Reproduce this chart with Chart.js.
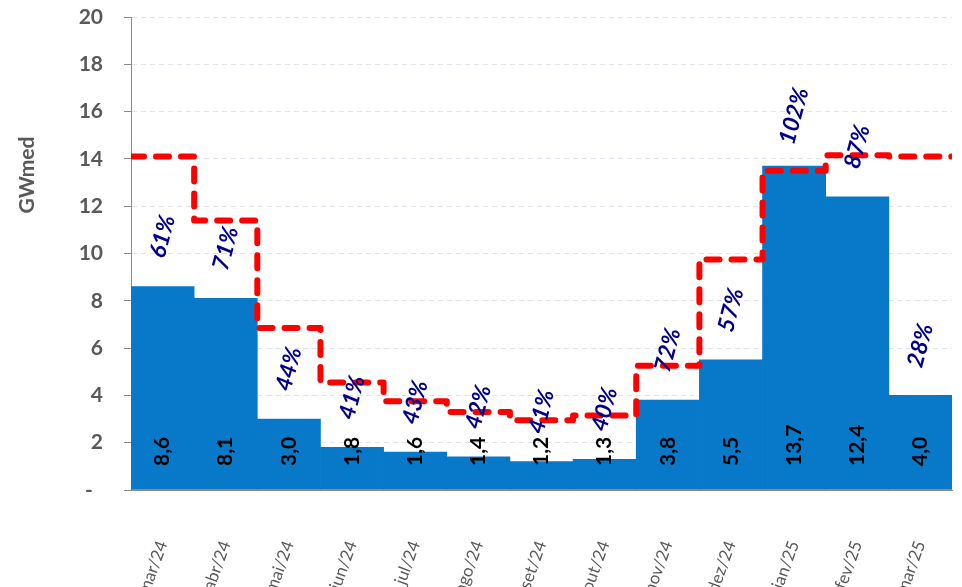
<!DOCTYPE html>
<html>
<head>
<meta charset="utf-8">
<script src="https://cdn.jsdelivr.net/npm/chart.js@4.4.1/dist/chart.umd.min.js"></script>
<style>
  html, body { margin: 0; padding: 0; background: #fff; overflow: hidden; }
</style>
</head>
<body>
<canvas id="chart" width="962" height="587"></canvas>
<script>
// categories
const months = ["mar/24", "abr/24", "mai/24", "jun/24", "jul/24", "ago/24", "set/24",
                "out/24", "nov/24", "dez/24", "jan/25", "fev/25", "mar/25"];
// bars (GWmed)
const generation = [8.6, 8.1, 3.0, 1.8, 1.6, 1.4, 1.2, 1.3, 3.8, 5.5, 13.7, 12.4, 4.0];
// red dashed step (MLT)
const mlt = [14.1, 11.4, 6.85, 4.55, 3.75, 3.3, 2.95, 3.15, 5.25, 9.75, 13.5, 14.15, 14.1];
// % of MLT labels
const pctOfMlt = [61, 71, 44, 41, 43, 42, 41, 40, 72, 57, 102, 87, 28];
// y axis
const yMin = 0, yMax = 20, yStep = 2;

const FONT = "Lato, 'Liberation Sans', sans-serif";
const GREY = "#595959";

// bars sit in the middle of each month slot, x axis runs 0..13
const barPoints = generation.map((v, i) => ({ x: i + 0.5, y: v }));
// step points: each month holds its value across its whole slot
const stepPoints = mlt.map((v, i) => ({ x: i, y: v }));
stepPoints.push({ x: mlt.length, y: mlt[mlt.length - 1] });

const labelPlugin = {
  id: "barLabels",
  afterDatasetsDraw(chart) {
    const ctx = chart.ctx;
    const meta = chart.getDatasetMeta(1);
    const y = chart.scales.y;
    const base = y.getPixelForValue(0);

    meta.data.forEach((bar, i) => {
      // value inside the bar
      ctx.save();
      ctx.translate(bar.x, base - 24);
      ctx.rotate(-Math.PI / 2);
      ctx.font = "bold 21px " + FONT;
      ctx.fillStyle = "#000";
      ctx.textAlign = "left";
      ctx.textBaseline = "middle";
      ctx.fillText(generation[i].toFixed(1).replace(".", ","), 0, 0);
      ctx.restore();

      // percent above the bar
      ctx.save();
      ctx.translate(bar.x, bar.y - 50);
      ctx.rotate(-75 * Math.PI / 180);
      ctx.font = "italic bold 23px " + FONT;
      ctx.fillStyle = "#00008B";
      ctx.textAlign = "center";
      ctx.textBaseline = "middle";
      ctx.fillText(pctOfMlt[i] + "%", 0, 0);
      ctx.restore();
    });

    // y axis title
    ctx.save();
    ctx.translate(27, 175);
    ctx.rotate(-Math.PI / 2);
    ctx.font = "bold 21px " + FONT;
    ctx.fillStyle = GREY;
    ctx.textAlign = "center";
    ctx.textBaseline = "middle";
    ctx.fillText("GWmed", 0, 0);
    ctx.restore();
  }
};

new Chart(document.getElementById("chart"), {
  type: "bar",
  data: {
    datasets: [{
      type: "line",
      data: stepPoints,
      stepped: true,
      borderColor: "#FF0000",
      borderWidth: 6,
      borderDash: [13, 12],
      borderCapStyle: "round",
      borderJoinStyle: "round",
      pointRadius: 0,
      fill: false,
      order: 0
    }, {
      type: "bar",
      data: barPoints,
      backgroundColor: "#0878C8",
      borderWidth: 0,
      grouped: false,
      barPercentage: 1,
      categoryPercentage: 1,
      order: 1
    }]
  },
  options: {
    responsive: false,
    animation: false,
    layout: { padding: { top: 17, right: 10, left: 0, bottom: 0 } },
    plugins: { legend: { display: false }, tooltip: { enabled: false } },
    scales: {
      x: {
        type: "linear",
        min: 0,
        max: months.length,
        offset: false,
        grid: { display: false, drawTicks: false },
        border: { display: true, color: "#8c8c8c" },
        afterBuildTicks: s => { s.ticks = months.map((m, i) => ({ value: i + 0.5 })); },
        ticks: {
          color: GREY,
          font: { family: FONT, size: 17 },
          minRotation: 70,
          maxRotation: 70,
          autoSkip: false,
          padding: 48,
          callback: (v, i) => months[i]
        },
        afterFit: s => { s.height = 97; s.paddingLeft = 0; s.paddingRight = 0; }
      },
      y: {
        min: yMin,
        max: yMax,
        ticks: {
          stepSize: yStep,
          color: GREY,
          font: { family: FONT, size: 21, weight: "bold" },
          padding: 21,
          callback: v => v === 0 ? "-  " : v
        },
        grid: { color: "#DCE3EA", tickColor: "#8c8c8c", tickLength: 7 },
        border: { display: true, color: "#8c8c8c", dash: [5, 4] },
        afterFit: s => { s.width = 131; s.paddingTop = 0; s.paddingBottom = 0; }
      }
    }
  },
  plugins: [labelPlugin]
});
</script>
</body>
</html>
